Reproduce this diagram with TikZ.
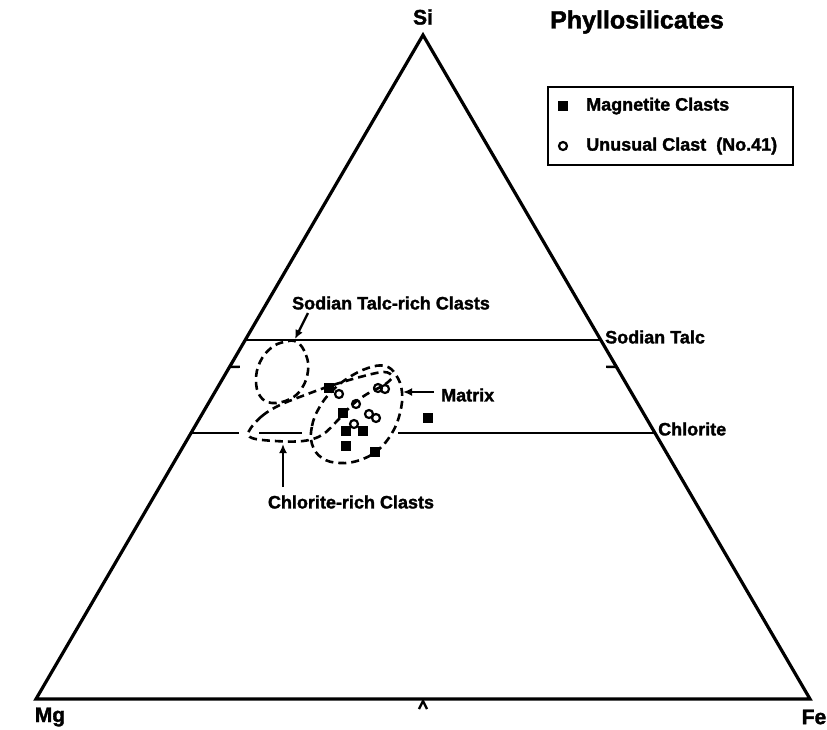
\documentclass[tikz,border=0pt]{standalone}
\usepackage{fontspec}
\setmainfont{Liberation Sans}[BoldFeatures={FakeBold=1.6}]
\usetikzlibrary{arrows.meta}
\begin{document}
\begin{tikzpicture}[x=1pt,y=-1pt,
  tri/.style={line width=3.2pt,line join=miter},
  hline/.style={line width=2.8pt},
  outline/.style={line width=2.6pt,dash pattern=on 8pt off 5pt},
  lbl/.style={font=\fontsize{18}{20}\selectfont\bfseries,inner sep=0pt},
  corner/.style={font=\fontsize{21}{23}\selectfont\bfseries,inner sep=0pt},
  pointer/.style={line width=2.4pt,-{Latex[length=9pt,width=8pt]}},
  caret/.style={line width=2.4pt},
  mag/.style={rectangle,fill=black,minimum size=10.5pt,inner sep=0pt},
  unu/.style={circle,draw=black,line width=2.2pt,minimum size=8pt,inner sep=0pt}]
\useasboundingbox (0,0) rectangle (827,729);
% triangle
\coordinate (Si) at (423,35);
\coordinate (Mg) at (36,699);
\coordinate (Fe) at (810,699);
\draw[tri] (Si) -- (Mg) -- (Fe) -- cycle;
\node[corner] (SiL) at (423,17) {Si};
\node[corner] (MgL) at (50,717) {Mg};
\node[corner] (FeL) at (814,717) {Fe};
% midpoint carets
\draw[caret,shift={(229.5,367)},rotate=120.3] (-5,9) -- (0,0) -- (5,9);
\draw[caret,shift={(616.5,367)},rotate=-120.3] (-5,9) -- (0,0) -- (5,9);
\draw[caret,shift={(423,701)}] (-4,8) -- (0,0) -- (4,8);
% Sodian talc line
\coordinate (stL) at (245.3,340);
\coordinate (stR) at (600.7,340);
\draw[hline] (stL) -- (stR);
% Chlorite line (interrupted)
\coordinate (chL) at (191,433);
\coordinate (chA) at (239,433);
\coordinate (chB) at (259,433);
\coordinate (chC) at (302,433);
\coordinate (chD) at (398,433);
\coordinate (chR) at (655,433);
\draw[hline] (chL) -- (chA);
\draw[hline] (chB) -- (chC);
\draw[hline] (chD) -- (chR);
\node[lbl,anchor=west] (stLbl) at (605,337) {Sodian Talc};
\node[lbl,anchor=west] (chLbl) at (658,429) {Chlorite};
% dashed outlines
\draw[outline] plot[smooth cycle,tension=0.7] coordinates {(297,342) (306,355) (308,371) (302,388) (290,399) (272,403) (260,396) (256,380) (260,362) (271,348) (284,342)};
\draw[outline] plot[smooth cycle,tension=0.6] coordinates {(249,431) (262,416) (280,405) (305,395) (330,386) (360,377) (384,372) (392,377) (384,385) (367,394) (352,405) (338,420) (322,435) (303,441) (275,441) (252,438)};
\draw[outline] plot[smooth cycle,tension=0.7] coordinates {(312,444) (312,426) (319,408) (331,392) (348,378) (368,368) (385,366) (396,375) (402,392) (400,413) (392,433) (378,450) (360,460) (340,463) (322,458)};
% data points
\node[mag] (m1) at (329,388) {};
\node[mag] (m2) at (343,413) {};
\node[mag] (m3) at (346,431) {};
\node[mag] (m4) at (363,431) {};
\node[mag] (m5) at (346,446) {};
\node[mag] (m6) at (375,452) {};
\node[mag] (m7) at (428,418) {};
\node[unu] (u1) at (339,394) {};
\node[unu] (u2) at (356,404) {};
\node[unu] (u3) at (378,388) {};
\node[unu] (u4) at (385,389) {};
\node[unu] (u5) at (369,414) {};
\node[unu] (u6) at (376,418) {};
\node[unu] (u7) at (354,424) {};
% annotations
\node[lbl] (stcLbl) at (391,303) {Sodian Talc-rich Clasts};
\coordinate (stcTip) at (295,339);
\coordinate (stcTail) at (308,313);
\draw[pointer] (stcTail) -- (stcTip);
\node[lbl] (chcLbl) at (351,502) {Chlorite-rich Clasts};
\coordinate (chcTip) at (283,444);
\coordinate (chcTail) at (283,487);
\draw[pointer] (chcTail) -- (chcTip);
\node[lbl,anchor=west] (mxLbl) at (441,395) {Matrix};
\coordinate (mxTip) at (403,392);
\coordinate (mxTail) at (434,392);
\draw[pointer] (mxTail) -- (mxTip);
% title and legend
\node[font=\fontsize{25}{27}\selectfont\bfseries,inner sep=0pt] (title) at (637,22) {Phyllosilicates};
\node[draw=black,line width=2.4pt,minimum width=245pt,minimum height=78pt,inner sep=0pt] (legend) at (670.5,126) {};
\node[mag] (legM) at (563,106) {};
\node[lbl,anchor=west] (legMt) at (586,106) {Magnetite Clasts};
\node[unu] (legU) at (563,146) {};
\node[lbl,anchor=west] (legUt) at (586,146) {Unusual Clast\ \ (No.41)};
\end{tikzpicture}
\end{document}
